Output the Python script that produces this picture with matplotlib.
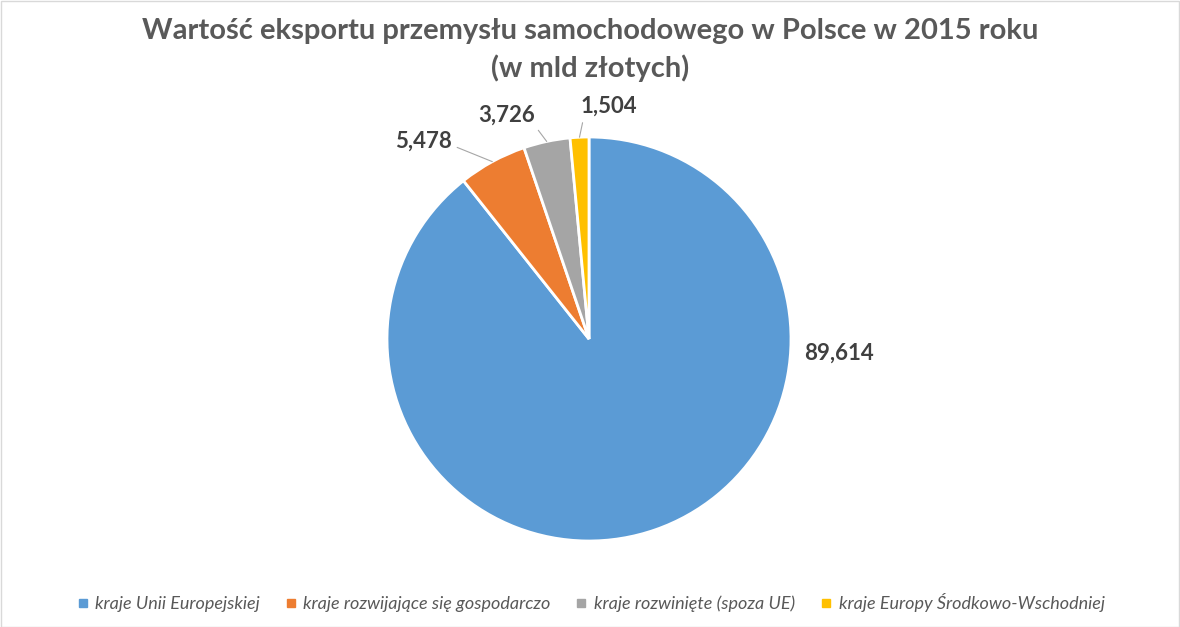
import matplotlib
matplotlib.use("Agg")
import matplotlib.pyplot as plt
import numpy as np
from matplotlib.patches import Rectangle
from matplotlib.lines import Line2D

categories = ["kraje Unii Europejskiej", "kraje rozwijające się gospodarczo",
              "kraje rozwinięte (spoza UE)", "kraje Europy Środkowo-Wschodniej"]
values = [89.614, 5.478, 3.726, 1.504]
value_labels = ["89,614", "5,478", "3,726", "1,504"]
colors = ["#5B9BD5", "#ED7D31", "#A5A5A5", "#FFC000"]
title = "Wartość eksportu przemysłu samochodowego w Polsce w 2015 roku\n(w mld złotych)"

W, H = 1180, 627
fig = plt.figure(figsize=(W / 100, H / 100), dpi=100)
fig.patch.set_facecolor("white")
fig.add_artist(Rectangle((0.5 / W, 0.5 / H), 1 - 1.5 / W, 1 - 1.5 / H, transform=fig.transFigure,
                         fill=False, edgecolor="#D9D9D9", linewidth=1))

cx, cy, r = 589, 627 - 339, 202
ax = fig.add_axes([(cx - r) / W, (cy - r) / H, 2 * r / W, 2 * r / H])
wedges, _ = ax.pie(values, colors=colors, startangle=90, counterclock=False,
                   wedgeprops=dict(edgecolor="white", linewidth=2))
ax.set_xlim(-1, 1)
ax.set_ylim(-1, 1)
ax.set_aspect("equal")
ax.axis("off")

label_pos = [(1.24, -0.07), (-0.82, 0.98), (-0.41, 1.11), (0.10, 1.15)]
relpos = [None, (1.0, 0.3), (1.0, 0.0), (0.05, 0.0)]
for w, lab, pos, rp in zip(wedges, value_labels, label_pos, relpos):
    mid = np.deg2rad((w.theta1 + w.theta2) / 2)
    edge = (np.cos(mid), np.sin(mid))
    kw = dict(fontsize=16, fontweight="bold", color="#404040", family="Lato",
              ha="center", va="center", annotation_clip=False)
    if rp is None:
        ax.annotate(lab, xy=pos, **kw)
    else:
        ax.annotate(lab, xy=edge, xytext=pos,
                    arrowprops=dict(arrowstyle="-", color="#A6A6A6", lw=0.8,
                                    relpos=rp, shrinkA=2, shrinkB=0), **kw)

fig.text(0.5, 1 - 50 / H, title, ha="center", va="center", fontsize=21,
         fontweight="bold", color="#595959", family="Lato", linespacing=1.5)

handles = [Line2D([], [], marker="s", linestyle="none", markersize=6,
                  markerfacecolor=c, markeredgecolor=c) for c in colors]
fig.legend(handles, categories, loc="center", bbox_to_anchor=(0.5, 1 - 603 / H), ncol=4,
           frameon=False, handlelength=0.8, handletextpad=0.3, columnspacing=1.3,
           prop=dict(family="Lato", style="italic", size=13), labelcolor="#595959")

fig.savefig("out.png", dpi=100)
